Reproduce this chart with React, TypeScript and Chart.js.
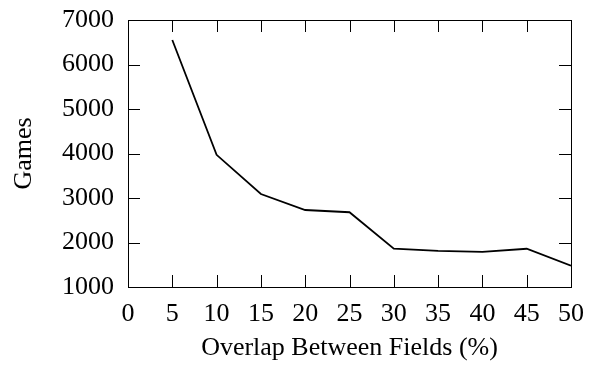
import React, { useEffect, useRef } from "react";
import { Chart, registerables } from "chart.js";

Chart.register(...registerables);

const overlapPercent = [5, 10, 15, 20, 25, 30, 35, 40, 45, 50];
const games = [6550, 3970, 3090, 2730, 2680, 1860, 1810, 1790, 1860, 1480];
const xTicks = [0, 5, 10, 15, 20, 25, 30, 35, 40, 45, 50];
const yTicks = [1000, 2000, 3000, 4000, 5000, 6000, 7000];
const xTitle = "Overlap Between Fields (%)";
const yTitle = "Games";

const FONT = "'Liberation Serif', 'Times New Roman', serif";

const framePlugin = {
  id: "frameTicks",
  afterDraw(chart: any) {
    const ctx = chart.ctx;
    const area = chart.chartArea;
    const xs = chart.scales.x;
    const ys = chart.scales.y;
    const left = Math.round(area.left);
    const right = Math.round(area.right);
    const top = Math.round(area.top);
    const bottom = Math.round(area.bottom);
    const tl = 12;
    ctx.save();
    ctx.fillStyle = "#000";
    for (let i = 0; i < xTicks.length; i++) {
      const px = Math.round(xs.getPixelForValue(xTicks[i]));
      ctx.fillRect(px, bottom - tl, 1, tl);
      ctx.fillRect(px, top, 1, tl);
    }
    for (let i = 0; i < yTicks.length; i++) {
      const py = Math.round(ys.getPixelForValue(yTicks[i]));
      ctx.fillRect(left, py, tl, 1);
      ctx.fillRect(right - tl, py, tl, 1);
    }
    ctx.fillRect(left, top, right - left + 1, 1);
    ctx.fillRect(left, bottom, right - left + 1, 1);
    ctx.fillRect(left, top, 1, bottom - top + 1);
    ctx.fillRect(right, top, 1, bottom - top + 1);
    ctx.restore();
  },
};

export default function App() {
  const ref = useRef<HTMLCanvasElement | null>(null);
  useEffect(() => {
    if (!ref.current) return;
    const chart = new Chart(ref.current, {
      type: "line",
      data: {
        datasets: [
          {
            data: overlapPercent.map((x, i) => ({ x, y: games[i] })),
            borderColor: "#000",
            borderWidth: 1.8,
            pointRadius: 0,
            tension: 0,
            fill: false,
          },
        ],
      },
      options: {
        animation: false,
        responsive: true,
        maintainAspectRatio: false,
        layout: { padding: { top: 20, right: 21, left: 0, bottom: 0 } },
        plugins: { legend: { display: false }, tooltip: { enabled: false } },
        scales: {
          x: {
            type: "linear",
            min: 0,
            max: 50,
            afterFit: (s: any) => {
              s.height = 78;
              s.paddingLeft = 0;
              s.paddingRight = 0;
              s.paddingTop = 0;
              s.paddingBottom = 0;
            },
            afterBuildTicks: (s: any) => {
              s.ticks = xTicks.map((v) => ({ value: v }));
            },
            ticks: {
              autoSkip: false,
              maxRotation: 0,
              padding: 12,
              color: "#000",
              font: { family: FONT, size: 26 },
              callback: (v: any) => String(v),
            },
            grid: { display: false, drawTicks: false },
            border: { display: false },
            title: {
              display: true,
              text: xTitle,
              color: "#000",
              font: { family: FONT, size: 26 },
              padding: { top: 0, bottom: 1.5 },
            },
          },
          y: {
            type: "linear",
            min: 1000,
            max: 7000,
            afterFit: (s: any) => {
              s.width = 128;
              s.paddingLeft = 0;
              s.paddingRight = 0;
              s.paddingTop = 0;
              s.paddingBottom = 0;
            },
            afterBuildTicks: (s: any) => {
              s.ticks = yTicks.map((v) => ({ value: v }));
            },
            ticks: {
              autoSkip: false,
              padding: 14,
              color: "#000",
              font: { family: FONT, size: 26 },
              callback: (v: any) => String(v),
            },
            grid: { display: false, drawTicks: false },
            border: { display: false },
            title: {
              display: true,
              text: yTitle,
              color: "#000",
              font: { family: FONT, size: 26 },
              padding: { top: 9, bottom: 0 },
            },
          },
        },
      },
      plugins: [framePlugin],
    });
    return () => chart.destroy();
  }, []);
  return (
    <div style={{ position: "absolute", left: 0, top: 0, width: 592, height: 365, background: "#fff" }}>
      <canvas ref={ref} />
    </div>
  );
}
